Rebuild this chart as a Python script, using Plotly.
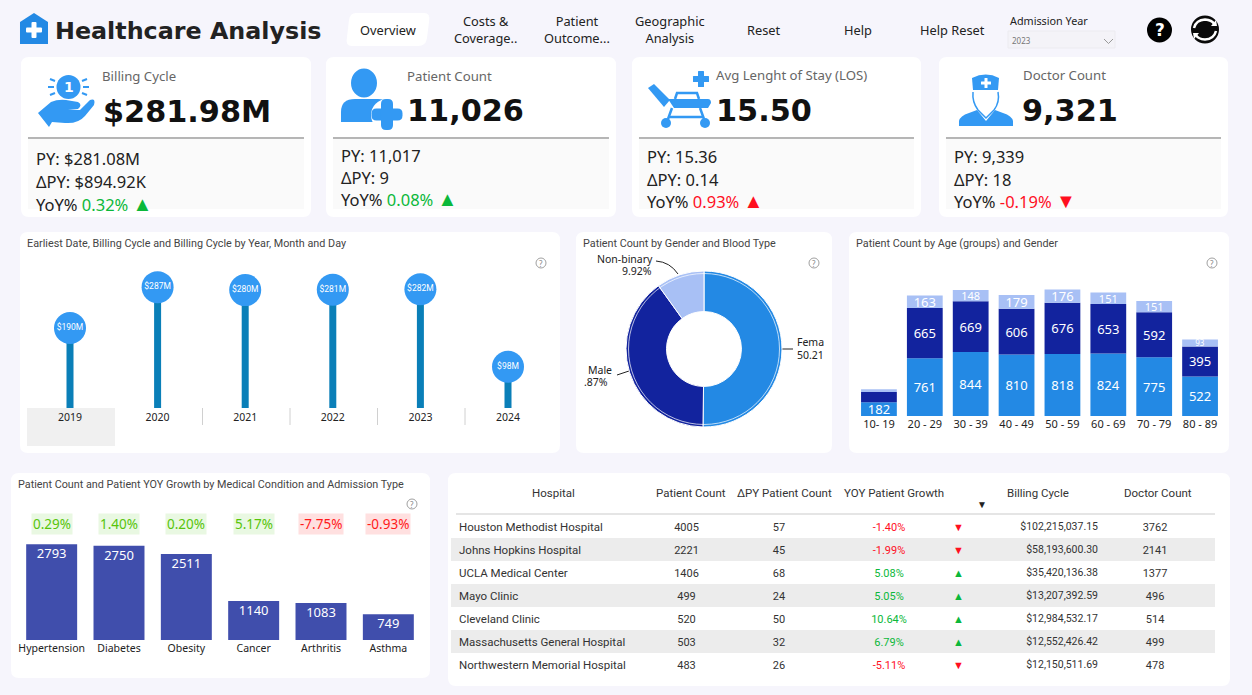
import re
import plotly.graph_objects as go

W, H = 1252, 695

# data
years = ["2019", "2020", "2021", "2022", "2023", "2024"]
billing_m = [190, 287, 280, 281, 282, 98]

genders = ["Female", "Male", "Non-binary"]
gender_pct = [50.21, 39.87, 9.92]

age_groups = ["10- 19", "20 - 29", "30 - 39", "40 - 49", "50 - 59", "60 - 69", "70 - 79", "80 - 89"]
age_female = [182, 761, 844, 810, 818, 824, 775, 522]
age_male = [135, 665, 669, 606, 676, 653, 592, 395]
age_nonbinary = [35, 163, 148, 179, 176, 151, 151, 93]

conditions = ["Hypertension", "Diabetes", "Obesity", "Cancer", "Arthritis", "Asthma"]
condition_count = [2793, 2750, 2511, 1140, 1083, 749]
condition_yoy = [0.29, 1.40, 0.20, 5.17, -7.75, -0.93]

table_headers = ["Hospital", "Patient Count", "ΔPY Patient Count", "YOY Patient Growth", "Billing Cycle", "Doctor Count"]
hospitals = ["Houston Methodist Hospital", "Johns Hopkins Hospital", "UCLA Medical Center", "Mayo Clinic",
             "Cleveland Clinic", "Massachusetts General Hospital", "Northwestern Memorial Hospital"]
hosp_patients = [4005, 2221, 1406, 499, 520, 503, 483]
hosp_delta = [57, 45, 68, 24, 50, 32, 26]
hosp_yoy = [-1.40, -1.99, 5.08, 5.05, 10.64, 6.79, -5.11]
hosp_billing = ["$102,215,037.15", "$58,193,600.30", "$35,420,136.38", "$13,207,392.59",
                "$12,984,532.17", "$12,552,426.42", "$12,150,511.69"]
hosp_doctors = [3762, 2141, 1377, 496, 514, 499, 478]

# colours
BLUE = "#3399f3"
FEMALE = "#2389e4"
MALE = "#12239e"
NONBIN = "#a8c0f5"
BODY = "Noto Sans"
DIN = "Roboto"


def xd(a, b):
    return [a / W, b / W]


def yd(top, bottom):
    return [1 - bottom / H, 1 - top / H]


def pp(path):
    # path in page pixels -> paper coordinates
    nums = iter(re.findall(r"[A-Z]|-?[\d.]+", path))
    out, is_x = [], True
    for t in nums:
        if t.isalpha():
            out.append(t)
            is_x = True
        else:
            v = float(t)
            out.append(f"{v / W:.5f}" if is_x else f"{1 - v / H:.5f}")
            is_x = not is_x
    return " ".join(out)


def rrect(x0, y0, x1, y1, r):
    return (f"M {x0 + r} {y0} L {x1 - r} {y0} Q {x1} {y0} {x1} {y0 + r} L {x1} {y1 - r} Q {x1} {y1} {x1 - r} {y1} "
            f"L {x0 + r} {y1} Q {x0} {y1} {x0} {y1 - r} L {x0} {y0 + r} Q {x0} {y0} {x0 + r} {y0} Z")


shapes = []
annots = []


def path(d, fill=None, line=None, lw=0, layer="below"):
    shapes.append(dict(type="path", xref="paper", yref="paper", path=pp(d), fillcolor=fill or "rgba(0,0,0,0)",
                       line=dict(color=line or "rgba(0,0,0,0)", width=lw), layer=layer))


def circle(cx, cy, r, fill=None, line=None, lw=0, ry=None, layer="below"):
    ry = ry or r
    shapes.append(dict(type="circle", xref="paper", yref="paper", x0=(cx - r) / W, x1=(cx + r) / W,
                       y0=1 - (cy + ry) / H, y1=1 - (cy - ry) / H, fillcolor=fill or "rgba(0,0,0,0)",
                       line=dict(color=line or "rgba(0,0,0,0)", width=lw), layer=layer))


def text(x, y, s, size=12, color="#222", family=BODY, anchor="left", bg=None, pad=0):
    if anchor == "left":
        x -= 1
    annots.append(dict(xref="paper", yref="paper", x=x / W, y=1 - y / H, text=s, showarrow=False, xanchor=anchor,
                       yanchor="middle", align=anchor, font=dict(size=size, color=color, family=family),
                       bgcolor=bg, borderpad=pad))


def plus(cx, cy, arm, thick, fill, r=1.5):
    path(rrect(cx - arm, cy - thick / 2, cx + arm, cy + thick / 2, r), fill)
    path(rrect(cx - thick / 2, cy - arm, cx + thick / 2, cy + arm, r), fill)


def help_mark(cx, cy):
    circle(cx, cy, 5, line="#a0a0a0", lw=1)
    text(cx, cy, "?", 8, "#888", anchor="center")


# page background
path(rrect(0, -20, W, H + 20, 18), "#f6f5fc")

# header
path("M 20 22 L 34 13 L 48 22 L 48 44 L 20 44 Z", FEMALE)
plus(34, 30, 8, 5, "white", 1)
text(55, 31, "<b>Healthcare Analysis</b>", 23.8, "#222", "DejaVu Sans")
path("M 352 13 L 424 13 Q 431 13 429 22 L 427 38 Q 426 46 418 46 L 352 46 Q 345 46 347 37 L 349 20 Q 350 13 356 13 Z",
     "white")
NAV = 12.8
text(388, 30, "Overview", NAV, "#222", anchor="center")
text(485, 30, "Costs &<br>Coverage..", NAV, "#222", anchor="center")
text(577, 30, "Patient<br>Outcome...", NAV, "#222", anchor="center")
text(670, 30, "Geographic<br>Analysis", NAV, "#222", anchor="center")
text(764, 30, "Reset", NAV, "#222", anchor="center")
text(858, 30, "Help", NAV, "#222", anchor="center")
text(952, 30, "Help Reset", NAV, "#222", anchor="center")
text(1010, 21, "Admission Year", 10.8, "#222")
path("M 1008 31 L 1115 31 L 1115 48 L 1008 48 Z", "#f4f3f8", "#ecebf0", 1)
text(1012, 41, "2023", 8, "#777")
path("M 1104 39 L 1108.5 43.5 L 1113 39", None, "#999", 1)
circle(1159.5, 30, 12.5, "black")
text(1159.5, 30, "<b>?</b>", 17, "white", "DejaVu Sans", "center")
circle(1205, 29.5, 14, "#0a0a0a")
path("M 1194 28 Q 1196 20 1205 19.5 Q 1212 20 1214 24", None, "white", 2.5)
path("M 1216 31 Q 1214 39 1205 39.5 Q 1198 39 1196 35", None, "white", 2.5)
path("M 1211 26 L 1217 26 L 1216 20 Z", "white")
path("M 1199 33 L 1193 33 L 1194 39 Z", "white")

# kpi cards
cards = [(21, 311), (326, 616), (632, 921), (939, 1228)]
for x0, x1 in cards:
    path(rrect(x0, 57, x1, 217, 8), "white")
    path(f"M {x0 + 7} 138 L {x1 - 7} 138 L {x1 - 7} 209 L {x0 + 7} 209 Z", "#fafafa")
    path(f"M {x0 + 7} 138 L {x1 - 7} 138", None, "#707070", 1)

GREEN = "#0bb83a"
RED = "#ff0f1f"
kpis = [
    (102, 76, "Billing Cycle", 103, 111, "$281.98M", 36, (158, 181, 203), "$281.08M", "$894.92K", "0.32%", GREEN, "▲"),
    (407, 76, "Patient Count", 407, 110, "11,026", 341, (156, 178, 199), "11,017", "9", "0.08%", GREEN, "▲"),
    (716, 75, "Avg Lenght of Stay (LOS)", 716, 110, "15.50", 647, (157, 179, 200), "15.36", "0.14", "0.93%", RED, "▲"),
    (1023, 75, "Doctor Count", 1022, 110, "9,321", 954, (157, 179, 200), "9,339", "18", "-0.19%", RED, "▼"),
]
for lx, ly, name, vx, vy, val, px, rows, py, dpy, yoy, col, tri in kpis:
    text(lx, ly, name, 13.2, "#666")
    text(vx, vy, f"<b>{val}</b>", 30.3, "#111", "DejaVu Sans")
    text(px, rows[0], f"PY: {py}", 16.5, "#222")
    text(px, rows[1], f"ΔPY: {dpy}", 16.5, "#222")
    text(px, rows[2], f'YoY% <span style="color:{col}">{yoy} <span style="font-size:20px">{tri}</span></span>', 16.5, "#222")

# kpi icons
circle(68.5, 87, 12, BLUE)
text(68.5, 87, "<b>1</b>", 14, "white", "DejaVu Sans", "center")
for d in ["M 48 87 L 54 87", "M 83 87 L 89 87", "M 50 79 L 55 81", "M 82 81 L 87 79", "M 50 95 L 55 93", "M 82 93 L 87 95"]:
    path(d, None, BLUE, 2)
path("M 38 113 L 51 102 Q 58 99 66 100 L 78 102 Q 83 105 78 109 L 68 110 L 80 110 L 90 100 Q 96 98 94 105 L 85 116 "
     "Q 78 124 65 123 L 52 122 L 49 127 Z", BLUE)

circle(364, 83, 13, BLUE, ry=14.5)
path("M 341 122 L 341 112 Q 341 99 355 99 L 378 99 Q 390 99 392 110 L 392 122 Z", BLUE)
circle(387, 115, 16, "white")
plus(387, 114.5, 15.5, 12, BLUE, 5)

path("M 648 88 L 654 84 L 670 100 L 664 107 Z", BLUE)
path("M 668 99 L 708 99 Q 711 99 711 103 L 708 108 L 674 108 Z", BLUE)
path("M 675 99 L 677 93 L 697 93 L 699 99", None, BLUE, 2.5)
path("M 668 117 L 704 117", None, BLUE, 2.5)
path("M 672 108 L 668 119 M 700 108 L 704 119", None, BLUE, 2.5)
circle(666, 123, 5, BLUE)
circle(705, 123, 5, BLUE)
plus(701, 79, 8, 6, BLUE, 0.5)

path("M 973 90 L 972 78 Q 986 71 999 78 L 998 90 Z", BLUE)
plus(986, 83, 5, 3, "white", 0.3)
path("M 973 92 Q 972 102 978 110 L 986 118 L 994 110 Q 1000 102 998 92", None, BLUE, 1.5)
path("M 959 126 L 959 121 Q 960 116 969 113 L 977 110 L 986 121 L 995 110 L 1003 113 Q 1012 116 1013 121 L 1013 126 Z",
     BLUE)

# chart cards
chart_cards = [(20, 232, 560, 453), (576, 232, 832, 453), (849, 232, 1229, 453), (11, 473, 430, 678), (448, 473, 1230, 686)]
for x0, y0, x1, y1 in chart_cards:
    path(rrect(x0, y0, x1, y1, 8), "white")
TITLE = 10.8
text(27, 243, "Earliest Date, Billing Cycle and Billing Cycle by Year, Month and Day", TITLE, "#444", DIN)
text(583, 243, "Patient Count by Gender and Blood Type", TITLE, "#444", DIN)
text(856, 243, "Patient Count by Age (groups) and Gender", TITLE, "#444", DIN)
text(18, 484, "Patient Count and Patient YOY Growth by Medical Condition and Admission Type", TITLE, "#444", DIN)
for cx, cy in [(541, 263), (814, 263), (1212, 263), (412, 504)]:
    help_mark(cx, cy)

# lollipop extras
path("M 27 408 L 115 408 L 115 446 L 27 446 Z", "#f0f0f0")
for sx in [202.5, 290, 377.5, 465]:
    path(f"M {sx} 408 L {sx} 425", None, "#d0d0d0", 1)

# donut labels
text(597, 259, "Non-binary", 10.5, "#222", anchor="left")
text(653, 271, "9.92%", 10.5, "#222", anchor="right")
path("M 656 261 Q 670 262 678 274", None, "#222", 1)
text(797, 342, "Fema", 10.5, "#222")
text(797, 355, "50.21", 10.5, "#222")
path("M 782 349 L 793 349", None, "#222", 1)
text(613, 370, "Male", 10.5, "#222", anchor="right")
text(584, 382, ".87%", 10.5, "#222")
path("M 617 375 L 629 371", None, "#222", 1)
circle(704, 349, 75.5, None, "white", 0.7, layer="above")

fig = go.Figure()

# lollipops
fig.add_trace(go.Bar(x=years, y=billing_m, width=0.08, marker=dict(color="#0a7fb8", line_width=0),
                     xaxis="x", yaxis="y", showlegend=False))
fig.add_trace(go.Scatter(x=years, y=billing_m, mode="markers+text", marker=dict(size=32, color=BLUE),
                         text=[f"${v}M" for v in billing_m], textposition="middle center",
                         textfont=dict(size=8.5, color="white", family=DIN), cliponaxis=False,
                         xaxis="x", yaxis="y", showlegend=False))

# donut
fig.add_trace(go.Pie(labels=genders, values=gender_pct, hole=0.48, sort=False, direction="clockwise", rotation=0,
                     marker=dict(colors=[FEMALE, MALE, NONBIN], line=dict(color="white", width=1)),
                     textinfo="none", showlegend=False,
                     domain=dict(x=xd(626, 782), y=yd(271, 427))))

# stacked age bars
for vals, col, size, show in [(age_female, FEMALE, 13, [v > 0 for v in age_female]),
                              (age_male, MALE, 13, [v > 150 for v in age_male]),
                              (age_nonbinary, NONBIN, [12, 13, 11, 13, 13, 11, 11, 8], [v > 50 for v in age_nonbinary])]:
    fig.add_trace(go.Bar(x=age_groups, y=vals, marker=dict(color=col, line_width=0),
                         text=[str(v) if s else "" for v, s in zip(vals, show)],
                         textposition="inside", insidetextanchor="middle", constraintext="none",
                         textfont=dict(size=size, color="white", family=BODY), textangle=0,
                         xaxis="x2", yaxis="y2", showlegend=False))

# condition bars
fig.add_trace(go.Bar(x=conditions, y=condition_count, marker=dict(color="#404eac", line_width=0),
                     xaxis="x3", yaxis="y3", showlegend=False))
# invisible markers only push the labels a little below the bar top
fig.add_trace(go.Scatter(x=conditions, y=condition_count, mode="markers+text", text=condition_count,
                         marker=dict(size=5, opacity=0), textposition="bottom center",
                         textfont=dict(size=13, color="white", family=BODY),
                         xaxis="x3", yaxis="y3", showlegend=False))
for cond, g in zip(conditions, condition_yoy):
    annots.append(dict(xref="x3", yref="paper", x=cond, y=1 - 524 / H, text=f"{g:.2f}%", showarrow=False,
                       xanchor="center", yanchor="middle",
                       font=dict(size=13.5, color="#57c40a" if g >= 0 else "#ff1a1a", family=BODY),
                       bgcolor="#e9f8e2" if g >= 0 else "#ffe0e0", borderpad=1))

# hospital table
stripe = ["white" if i % 2 == 0 else "#ececec" for i in range(len(hospitals))]
yoy_cols = ["#0bb83a" if g >= 0 else "#ff0f1f" for g in hosp_yoy]
fig.add_trace(go.Table(
    domain=dict(x=xd(451, 1215), y=yd(473.5, 682)),
    columnwidth=[195, 81, 104, 116, 23, 136, 109],
    header=dict(values=[""] * 7, height=41, fill_color="rgba(0,0,0,0)", line_width=0),
    cells=dict(values=[hospitals, hosp_patients, hosp_delta, [f"{g:.2f}%" for g in hosp_yoy],
                       ["▲" if g >= 0 else "▼" for g in hosp_yoy], hosp_billing,
                       [f"{d}\u00a0\u00a0\u00a0\u00a0" for d in hosp_doctors]],
               height=23, align=["left", "center", "center", "center", "center", "right", "center"],
               fill_color=[stripe] * 7, line_width=0,
               font=dict(size=[11.5, 11, 11, 11, 11, 10.5, 11], family=DIN,
                         color=["#333", "#333", "#333", yoy_cols, yoy_cols, "#333", "#333"]))))
path("M 456 514 L 1215 514", None, "#dcdcdc", 1.5, layer="above")
for hx, name in zip([553.5, 691, 784, 894, 1038, 1158], table_headers):
    text(hx, 493, name, 11.5, "#333", DIN, "center")
text(982, 504, "▼", 10, "#222", anchor="center")

hidden = dict(visible=False, fixedrange=True)
fig.update_layout(
    width=W, height=H, margin=dict(l=0, r=0, t=0, b=0), autosize=False,
    paper_bgcolor="#e8e8e8", plot_bgcolor="rgba(0,0,0,0)",
    barmode="relative", bargap=0.22, shapes=shapes, annotations=annots,
    xaxis=dict(domain=xd(26.2, 551.8), type="category", range=[-0.5, 5.5], anchor="y", ticklabelstandoff=1,
               tickfont=dict(size=10.5, color="#222", family=BODY), showgrid=False, showline=False, ticks=""),
    yaxis=dict(domain=yd(262, 408), range=[0, 346.8], anchor="x", **hidden),
    xaxis2=dict(domain=xd(856, 1223), type="category", range=[-0.5, 7.5], anchor="y2",
                tickfont=dict(size=11, color="#222", family=BODY), showgrid=False, showline=False, ticks=""),
    yaxis2=dict(domain=yd(270, 416), range=[0, 1926], anchor="x2", **hidden),
    xaxis3=dict(domain=xd(18, 422), type="category", range=[-0.5, 5.5], anchor="y3",
                tickfont=dict(size=10.5, color="#222", family=BODY), showgrid=False, showline=False, ticks=""),
    yaxis3=dict(domain=yd(540, 640), range=[0, 2918], anchor="x3", **hidden),
)
fig.update_traces(width=0.757, selector=dict(xaxis="x3", type="bar"))

fig.write_html("out.html", config={"displayModeBar": False},
               post_script="document.body.style.margin='0';document.body.style.overflow='hidden';")
